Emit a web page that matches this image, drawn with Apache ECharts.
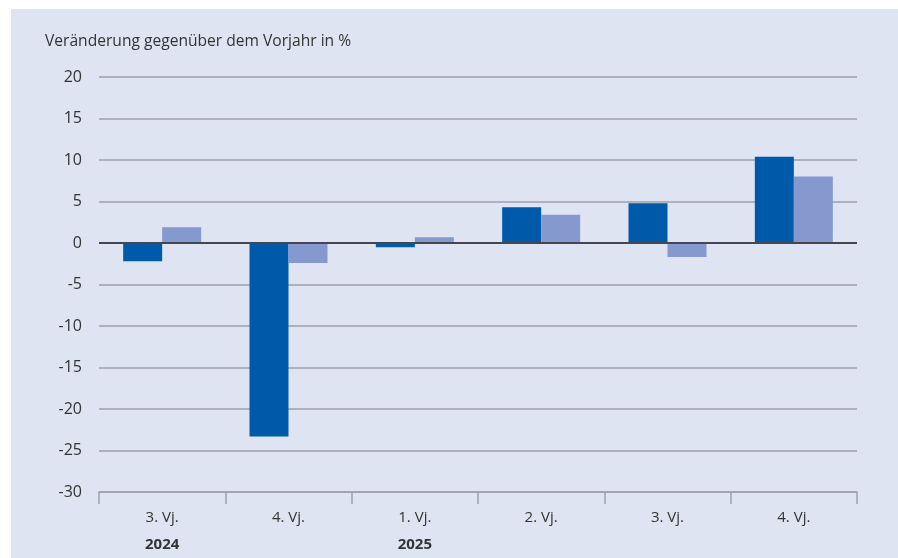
<!DOCTYPE html>
<html>
<head>
<meta charset="utf-8">
<script src="https://cdn.jsdelivr.net/npm/echarts@6/dist/echarts.min.js"></script>
<style>
  html, body { margin: 0; padding: 0; background: #fff; overflow: hidden; }
  #main { position: absolute; left: 11px; top: 9px; width: 887px; height: 549px; }
</style>
</head>
<body>
<div id="main"></div>
<script>
// Quartale und Jahre
var quarters = ['3. Vj.', '4. Vj.', '1. Vj.', '2. Vj.', '3. Vj.', '4. Vj.'];
var years = ['2024', '', '2025', '', '', ''];
// Werte in %
var seriesA = [-2.2, -23.3, -0.5, 4.3, 4.8, 10.4];
var seriesB = [1.9, -2.4, 0.7, 3.4, -1.7, 8.0];
var yTicks = { min: -30, max: 20, step: 5 };

var myChart = echarts.init(document.getElementById('main'));

var labels = quarters.map(function (q, i) {
    return years[i] ? q + '\n{y|' + years[i] + '}' : q;
});

var option = {
    backgroundColor: '#dfe4f2',
    animation: false,
    textStyle: { fontFamily: '"Open Sans", sans-serif' },
    title: {
        text: 'Veränderung gegenüber dem Vorjahr in %',
        left: 29,
        top: 20,
        textStyle: { fontSize: 15.6, fontWeight: 'normal', color: '#333', fontFamily: '"Open Sans", sans-serif' }
    },
    grid: { left: 88, right: 41, top: 68, bottom: 58 },
    xAxis: {
        type: 'category',
        data: labels,
        axisLine: { onZero: false, lineStyle: { color: '#9ea1aa', width: 1.5 } },
        axisTick: { show: true, length: 12, lineStyle: { color: '#9ea1aa', width: 1.5 } },
        axisLabel: {
            color: '#333',
            fontSize: 15,
            margin: 12,
            lineHeight: 27,
            rich: { y: { fontWeight: 'bold', fontSize: 15, color: '#333', lineHeight: 27 } }
        }
    },
    yAxis: {
        type: 'value',
        min: yTicks.min,
        max: yTicks.max,
        interval: yTicks.step,
        axisLine: { show: false },
        axisTick: { show: false },
        axisLabel: { color: '#333', fontSize: 16, margin: 17 },
        splitLine: { lineStyle: { color: '#9ea1aa', width: 1.5 } }
    },
    series: [
        {
            type: 'bar',
            data: seriesA,
            barWidth: 39,
            barGap: '0%',
            itemStyle: { color: '#005aaa' },
            markLine: {
                silent: true,
                symbol: 'none',
                label: { show: false },
                lineStyle: { color: '#45464f', width: 2, type: 'solid' },
                data: [{ yAxis: 0 }]
            }
        },
        {
            type: 'bar',
            data: seriesB,
            barWidth: 39,
            barGap: '0%',
            itemStyle: { color: '#8599cf' }
        }
    ]
};
myChart.setOption(option);
</script>
</body>
</html>
